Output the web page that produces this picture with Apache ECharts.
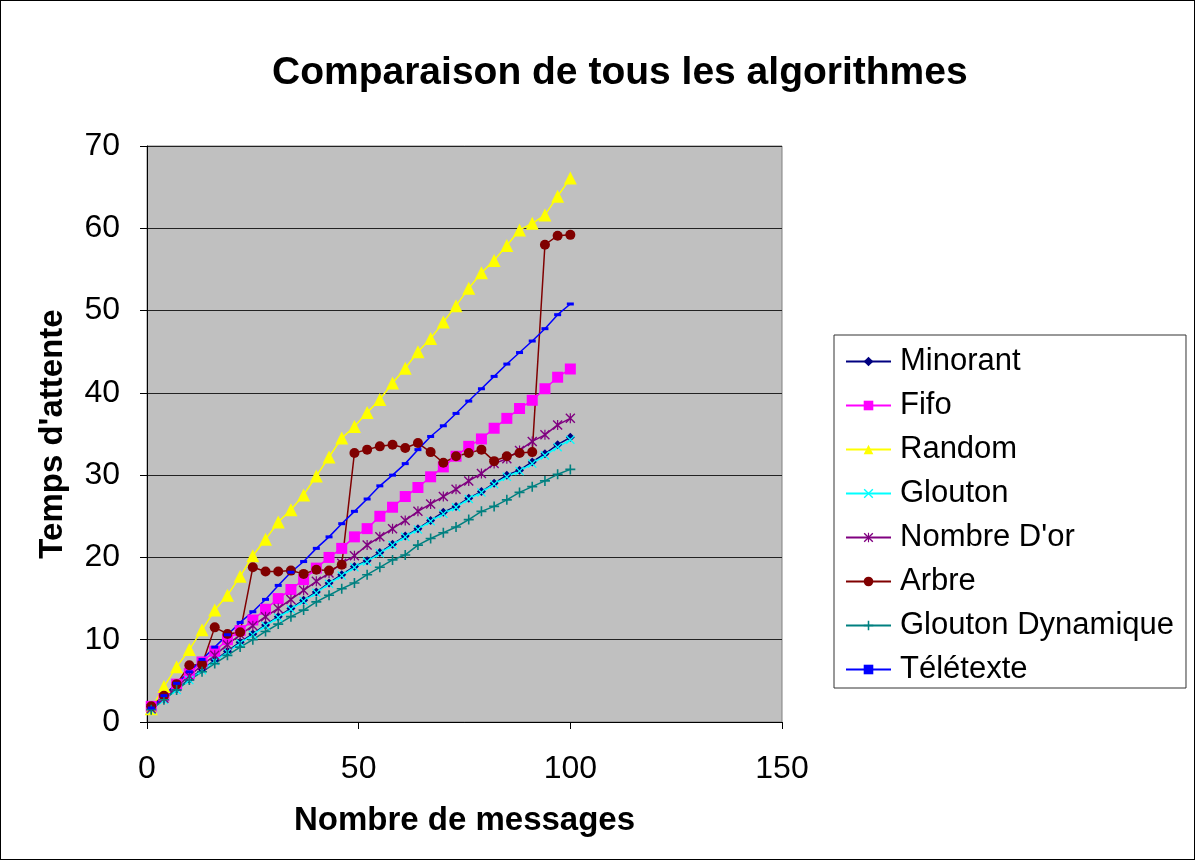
<!DOCTYPE html>
<html>
<head>
<meta charset="utf-8">
<script src="https://cdn.jsdelivr.net/npm/echarts@6/dist/echarts.min.js"></script>
<style>
html,body{margin:0;padding:0;background:#fff;}
#frame{position:absolute;left:0;top:0;width:1195px;height:860px;box-sizing:border-box;border:1px solid #000;}
#chart{position:absolute;left:0;top:0;width:1195px;height:860px;}
</style>
</head>
<body>
<div id="chart"></div>
<div id="frame"></div>
<script>
const messages = [1,4,7,10,13,16,19,22,25,28,31,34,37,40,43,46,49,52,55,58,61,64,67,70,73,76,79,82,85,88,91,94,97,100];
const minorant = [1.5,2.8,4.0,5.2,6.4,7.5,8.6,9.7,10.7,11.8,12.8,13.8,14.8,15.8,16.9,17.9,18.9,19.6,20.6,21.6,22.6,23.5,24.5,25.5,26.2,27.2,28.0,29.0,30.0,30.6,31.6,32.6,33.7,34.6];
const fifo = [1.9,3.2,4.6,5.9,7.3,8.6,10.0,11.1,12.4,13.7,15.0,16.1,17.3,18.7,20.0,21.1,22.5,23.5,25.0,26.1,27.4,28.5,29.8,31.0,32.3,33.5,34.4,35.7,36.9,38.1,39.1,40.5,41.9,42.9];
const random = [1.6,4.3,6.7,8.8,11.2,13.6,15.4,17.7,20.2,22.2,24.3,25.8,27.6,29.9,32.2,34.5,35.9,37.6,39.2,41.2,43.0,45.0,46.6,48.6,50.6,52.7,54.6,56.1,57.9,59.8,60.6,61.6,63.9,66.1];
const glouton = [1.5,2.7,3.9,5.1,6.3,7.4,8.5,9.6,10.6,11.7,12.7,13.7,14.7,15.7,16.8,17.8,18.8,19.5,20.5,21.5,22.5,23.4,24.4,25.3,26.1,27.1,27.9,28.9,29.8,30.5,31.4,32.4,33.4,34.3];
const nombreDor = [1.6,2.9,4.3,5.6,6.9,8.1,9.4,10.6,11.7,12.8,13.8,14.9,16.0,17.1,18.1,19.3,20.2,21.5,22.5,23.5,24.5,25.6,26.5,27.4,28.3,29.3,30.2,31.4,32.0,33.0,34.1,34.9,36.1,36.9];
const arbre = [1.9,3.2,4.6,6.9,7.0,11.5,10.7,10.9,18.8,18.3,18.3,18.4,18.0,18.5,18.4,19.1,32.7,33.1,33.5,33.7,33.3,33.9,32.8,31.5,32.3,32.7,33.1,31.7,32.3,32.7,32.8,58.0,59.1,59.2];
const gloutonDyn = [1.5,2.7,3.9,5.1,6.1,7.1,8.1,9.1,10.0,11.0,11.9,12.8,13.6,14.6,15.4,16.2,16.9,17.9,18.8,19.7,20.3,21.5,22.3,23.0,23.7,24.6,25.6,26.2,27.0,27.9,28.6,29.3,30.1,30.7];
const teletexte = [1.7,3.2,4.7,6.1,7.6,9.1,10.6,12.1,13.4,14.9,16.6,18.2,19.5,21.1,22.5,24.1,25.6,27.1,28.7,30.0,31.4,33.1,34.7,36.0,37.5,39.0,40.5,42.0,43.5,44.9,46.3,47.8,49.5,50.8];

const seriesNames = ['Minorant','Fifo','Random','Glouton',"Nombre D'or",'Arbre','Glouton Dynamique','Télétexte'];
const seriesValues = [minorant, fifo, random, glouton, nombreDor, arbre, gloutonDyn, teletexte];
const seriesColors = ['#000080','#FF00FF','#FFFF00','#00FFFF','#800080','#800000','#008080','#0000FF'];

const X_PATH = 'path://M0,1L1,0L5,4L9,0L10,1L6,5L10,9L9,10L5,6L1,10L0,9L4,5Z';
const PLUS_PATH = 'path://M4.2,0H5.8V4.2H10V5.8H5.8V10H4.2V5.8H0V4.2H4.2Z';
const STAR_PATH = 'path://M0,1L1,0L5,4L9,0L10,1L6,5L10,9L9,10L5,6L1,10L0,9L4,5ZM4.4,0H5.6V10H4.4Z';
const DASH_PATH = 'path://M0,0H7V3H0Z';
const symbols = ['diamond','rect','triangle',X_PATH,STAR_PATH,'circle',PLUS_PATH,DASH_PATH];
const symbolSizes = [9,11,13,9,10,10,10,7];
const keepAspect = [false,false,false,false,false,false,false,true];

const FONT = "'Liberation Sans', Arial, sans-serif";
const chart = echarts.init(document.getElementById('chart'), null, {renderer:'canvas'});

const series = seriesNames.map((name, i) => ({
  name: name,
  type: 'line',
  data: messages.map((x, j) => [x, seriesValues[i][j]]),
  symbol: symbols[i],
  symbolSize: symbolSizes[i],
  symbolKeepAspect: keepAspect[i],
  showAllSymbol: true,
  lineStyle: {color: seriesColors[i], width: 1.5},
  itemStyle: {color: seriesColors[i], borderWidth: 0, opacity: 1},
  emphasis: {disabled: true}
}));

chart.setOption({
  animation: false,
  backgroundColor: '#ffffff',
  textStyle: {fontFamily: FONT},
  title: {
    text: 'Comparaison de tous les algorithmes',
    left: 267, top: 49,
    textStyle: {fontFamily: FONT, fontSize: 39, fontWeight: 'bold', color: '#000'}
  },
  grid: {
    left: 147, top: 146, width: 635, height: 576,
    show: true, backgroundColor: '#C0C0C0', borderColor: '#808080', borderWidth: 1,
    containLabel: false
  },
  legend: {
    orient: 'vertical',
    left: 834, top: 335,
    padding: [11, 12, 3, 11],
    itemWidth: 45, itemHeight: 12, itemGap: 13,
    backgroundColor: '#ffffff',
    borderColor: '#333', borderWidth: 1,
    textStyle: {fontFamily: FONT, fontSize: 31, lineHeight: 30, color: '#000', padding: [0,0,0,4]},
    data: seriesNames
  },
  xAxis: {
    type: 'value', min: 0, max: 150, interval: 50,
    name: 'Nombre de messages', nameLocation: 'middle', nameGap: 82,
    nameTextStyle: {fontFamily: FONT, fontSize: 33, fontWeight: 'bold', color: '#000'},
    axisLine: {show: true, lineStyle: {color: '#000', width: 1}},
    axisTick: {show: true, inside: false, length: 7, lineStyle: {color: '#000'}},
    axisLabel: {fontFamily: FONT, fontSize: 32, color: '#000', margin: 31},
    splitLine: {show: false}
  },
  yAxis: {
    type: 'value', min: 0, max: 70, interval: 10,
    name: "Temps d'attente", nameLocation: 'middle', nameGap: 78,
    nameTextStyle: {fontFamily: FONT, fontSize: 33, fontWeight: 'bold', color: '#000'},
    axisLine: {show: true, lineStyle: {color: '#000', width: 1}},
    axisTick: {show: true, inside: false, length: 7, lineStyle: {color: '#000'}},
    axisLabel: {fontFamily: FONT, fontSize: 32, color: '#000', margin: 27},
    splitLine: {show: true, lineStyle: {color: '#222', width: 1.2}}
  },
  series: series
});
</script>
</body>
</html>
